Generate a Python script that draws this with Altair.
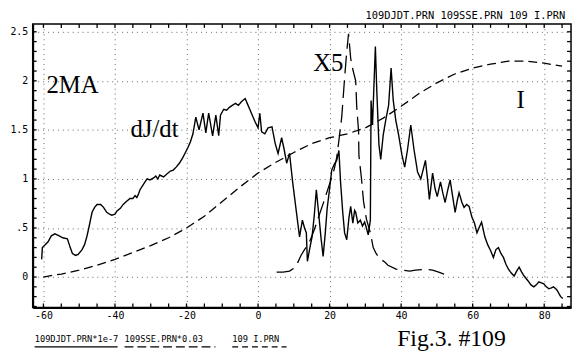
import altair as alt
import pandas as pd

# ---- data ----
DJ_X = [-60.5, -60.3, -59.5, -58.7, -57.8, -56.8, -55.6, -54.6, -53.3, -52.5, -51.9, -51.0, -50.3, -49.2,
        -48.5, -47.8, -47.2, -46.4, -45.7, -45.0, -44.0, -43.2, -42.3, -41.5, -40.9, -40.0, -39.5, -38.5,
        -37.7, -36.8, -35.8, -35.0, -34.4, -33.9, -33.5, -33.0, -32.3, -31.6, -31.0, -30.2, -29.2, -28.6,
        -28.0, -27.5, -26.4, -25.5, -24.5, -23.7, -22.9, -22.0, -21.0, -20.3, -19.6, -18.9, -18.2, -17.4,
        -16.5, -15.4, -14.6, -13.8, -12.7, -11.8, -11.0, -10.5, -9.6, -8.8, -8.0, -7.2, -6.3, -5.5, -4.6,
        -3.6, -2.9, -2.2, -1.5, -0.8, 0.0, 0.5, 1.0, 1.9, 2.8, 3.9, 4.8, 5.6, 6.6, 7.3, 8.0, 8.8, 9.7,
        10.7, 11.6, 12.4, 13.0, 13.5, 13.8, 14.5, 15.1, 15.7, 16.3, 17.1, 17.6, 18.2, 18.8, 19.3, 20.0,
        20.6, 21.3, 22.0, 22.6, 23.1, 23.7, 24.2, 24.8, 25.4, 25.9, 26.5, 27.0, 27.3, 27.9, 28.6, 29.2,
        29.8, 30.3, 30.8, 31.4, 31.6, 32.0, 32.8, 33.2, 33.8, 34.3, 35.0, 35.8, 36.5, 37.2, 37.8, 38.5,
        39.3, 40.2, 41.0, 41.8, 42.7, 43.6, 44.6, 45.5, 46.2, 46.8, 47.4, 47.9, 48.8, 49.5, 50.1, 51.0,
        51.7, 52.3, 53.0, 53.7, 54.5, 55.1, 55.7, 56.2, 57.0, 57.6, 58.3, 59.0, 59.8, 60.5, 61.2, 62.0,
        62.5, 63.4, 64.2, 65.0, 65.8, 66.5, 67.2, 67.9, 68.6, 69.3, 70.0, 70.8, 71.6, 72.3, 73.0, 73.7,
        74.4, 75.5, 76.3, 77.1, 77.8, 78.5, 79.2, 79.9, 80.6, 81.3, 82.0, 82.6, 83.5, 84.6, 85.2]
DJ_Y = [0.18, 0.30, 0.33, 0.36, 0.42, 0.44, 0.42, 0.40, 0.39, 0.30, 0.24, 0.22, 0.23, 0.28,
        0.33, 0.42, 0.52, 0.66, 0.71, 0.74, 0.74, 0.71, 0.66, 0.64, 0.63, 0.64, 0.67, 0.70,
        0.74, 0.77, 0.80, 0.80, 0.83, 0.81, 0.84, 0.89, 0.93, 0.97, 1.00, 0.99, 1.01, 1.03,
        1.00, 1.04, 1.02, 1.05, 1.08, 1.09, 1.12, 1.16, 1.22, 1.27, 1.32, 1.38, 1.46, 1.63,
        1.50, 1.67, 1.47, 1.67, 1.44, 1.65, 1.44, 1.65, 1.71, 1.70, 1.73, 1.75, 1.77, 1.75, 1.79,
        1.82, 1.76, 1.70, 1.64, 1.58, 1.52, 1.67, 1.48, 1.46, 1.52, 1.53, 1.36, 1.26, 1.42, 1.30, 1.16, 1.26, 0.96,
        0.67, 0.41, 0.58, 0.50, 0.45, 0.16, 0.30, 0.41, 0.62, 0.89, 0.59, 0.40, 0.21, 0.45, 0.69, 0.90,
        1.09, 1.15, 1.19, 1.29, 0.95, 0.65, 0.45, 0.38, 0.60, 0.72, 0.55, 0.68, 0.66, 0.55, 0.58, 0.52,
        0.56, 0.50, 0.43, 0.58, 1.80, 1.55, 2.35, 1.90, 1.35, 1.20, 1.45, 1.62, 1.75, 2.13, 1.80, 1.60,
        1.45, 1.25, 1.12, 1.30, 1.55, 1.30, 1.07, 1.00, 1.10, 1.19, 0.99, 0.79, 1.06, 0.90, 0.82, 0.97,
        0.85, 0.76, 0.88, 0.99, 0.80, 0.66, 0.78, 0.86, 0.76, 0.71, 0.74, 0.72, 0.61, 0.55, 0.45, 0.52,
        0.56, 0.41, 0.33, 0.27, 0.20, 0.28, 0.30, 0.24, 0.20, 0.13, 0.08, 0.04, 0.01, 0.06, 0.10, 0.05,
        0.01, -0.04, -0.08, -0.10, -0.08, -0.05, -0.06, -0.07, -0.10, -0.12, -0.11, -0.10, -0.13, -0.20, -0.22]

SSE_X = [5.2, 7.0, 8.8, 10.0, 11.0, 12.0, 13.0, 14.3, 15.7, 17.0, 18.5, 20.0, 21.3, 22.0, 22.6, 23.4,
         24.2, 24.8, 25.3, 25.9, 26.6, 27.3, 27.6, 28.1, 28.2, 28.9, 29.5, 30.3, 31.4, 32.2, 33.0, 34.0,
         35.5, 36.3, 38.6, 40.5, 42.4, 44.0, 46.8, 48.8, 50.5, 52.0]
SSE_Y = [0.05, 0.05, 0.06, 0.09, 0.14, 0.22, 0.28, 0.35, 0.48, 0.62, 0.78, 0.95, 1.10, 1.22, 1.39, 1.63,
         2.03, 2.30, 2.48, 2.23, 2.10, 2.00, 1.73, 1.49, 1.24, 1.01, 0.77, 0.59, 0.45, 0.30, 0.24, 0.19,
         0.15, 0.12, 0.08, 0.07, 0.06, 0.07, 0.08, 0.07, 0.05, 0.03]

I_X = [-60, -57, -55, -50, -45, -40, -35, -30, -25, -20, -15, -10, -5, 0, 5, 10, 15, 20, 25, 30,
       35, 40, 45, 50, 55, 60, 65, 70, 75, 80, 85]
I_Y = [0.00, 0.02, 0.03, 0.07, 0.12, 0.18, 0.25, 0.32, 0.40, 0.50, 0.62, 0.77, 0.92, 1.06, 1.17, 1.27,
       1.36, 1.42, 1.46, 1.52, 1.62, 1.74, 1.87, 1.98, 2.07, 2.13, 2.17, 2.20, 2.20, 2.18, 2.15]

X_LABELS = [-60, -40, -20, 0, 20, 40, 60, 80]
Y_LABELS = [0, 0.5, 1, 1.5, 2, 2.5]
X_MINOR = [-60, -55, -50, -45, -40, -35, -30, -25, -20, -15, -10, -5, 0, 5, 10, 15, 20, 25, 30, 35,
           40, 45, 50, 55, 60, 65, 70, 75, 80, 85]
Y_MINOR = [-0.3, -0.2, -0.1, 0, 0.1, 0.2, 0.3, 0.4, 0.5, 0.6, 0.7, 0.8, 0.9, 1.0, 1.1, 1.2, 1.3, 1.4,
           1.5, 1.6, 1.7, 1.8, 1.9, 2.0, 2.1, 2.2, 2.3, 2.4, 2.5]

TOP_NOTE = "109DJDT.PRN 109SSE.PRN 109 I.PRN"
LEGEND_TEXT = ["109DJDT.PRN*1e-7", "109SSE.PRN*0.03", "109 I.PRN"]
FIG_TITLE = "Fig.3. #109"

W, H = 545, 287

xs = alt.Scale(domain=[-63, 87.5], nice=False, zero=False)
ys = alt.Scale(domain=[-0.31, 2.58], nice=False, zero=False)

def df(xv, yv):
    return pd.DataFrame({"x": xv, "y": yv, "i": list(range(len(xv)))})

mono = "DejaVu Sans Mono"
serif = "Liberation Serif"

x_main = alt.Axis(values=X_LABELS, title=None, grid=True, gridColor="#666", gridDash=[1, 4],
                  gridWidth=1, ticks=False, domain=True, domainColor="black", domainWidth=2,
                  labelFont=mono, labelFontSize=10, labelColor="black", labelPadding=3,
                  labelExpr="'' + datum.value")
y_main = alt.Axis(values=Y_LABELS, title=None, grid=True, gridColor="#666", gridDash=[1, 4],
                  gridWidth=1, ticks=False, domain=True, domainColor="black", domainWidth=2,
                  labelFont=mono, labelFontSize=10, labelColor="black", labelPadding=5,
                  labelExpr="datum.value == 0.5 ? '.5' : '' + datum.value")

def X(field):
    return alt.X(field, scale=xs, axis=x_main)

def Y(field):
    return alt.Y(field, scale=ys, axis=y_main)

i_line = alt.Chart(df(I_X, I_Y)).mark_line(color="black", strokeWidth=1.3, strokeDash=[9, 5]).encode(
    x=X("x:Q"), y=Y("y:Q"), order="i:Q")

dj_line = alt.Chart(df(DJ_X, DJ_Y)).mark_line(color="black", strokeWidth=1.4).encode(
    x=X("x:Q"), y=Y("y:Q"), order="i:Q")

sse_line = alt.Chart(df(SSE_X, SSE_Y)).mark_line(color="black", strokeWidth=1.3, strokeDash=[18, 7]).encode(
    x=X("x:Q"), y=Y("y:Q"), order="i:Q")

# inward tick marks on all four edges
xt = pd.DataFrame({"x": X_MINOR})
yt = pd.DataFrame({"y": Y_MINOR})
TK = 4
tick_layers = [
    alt.Chart(xt).mark_rule(color="black", strokeWidth=1.3).encode(
        x=X("x:Q"), y=alt.value(H), y2=alt.value(H - TK)),
    alt.Chart(xt).mark_rule(color="black", strokeWidth=1.3).encode(
        x=X("x:Q"), y=alt.value(0), y2=alt.value(TK)),
    alt.Chart(yt).mark_rule(color="black", strokeWidth=1.3).encode(
        y=Y("y:Q"), x=alt.value(0), x2=alt.value(TK)),
    alt.Chart(yt).mark_rule(color="black", strokeWidth=1.3).encode(
        y=Y("y:Q"), x=alt.value(W), x2=alt.value(W - TK)),
]

one = pd.DataFrame({"a": [0]})

def label(text, px, py, size, font, align="left"):
    return alt.Chart(one).mark_text(text=text, font=font, fontSize=size, align=align,
                                    baseline="alphabetic", color="black").encode(
        x=alt.value(px), y=alt.value(py))

def underline(x1, x2, py, dash=None):
    kw = {"color": "black", "strokeWidth": 1.2}
    if dash:
        kw["strokeDash"] = dash
    return alt.Chart(one).mark_rule(**kw).encode(x=alt.value(x1), x2=alt.value(x2), y=alt.value(py))

layers = [
    i_line, dj_line, sse_line, *tick_layers,
    label("2MA", 14, 70, 25, serif),
    label("dJ/dt", 99, 114, 25, serif),
    label("X5", 284, 48, 25, serif),
    label("I", 494, 85, 25, serif, align="center"),
    label(TOP_NOTE, 337, -5, 10.5, mono),
    label(LEGEND_TEXT[0], 2, 322, 8.8, mono),
    label(LEGEND_TEXT[1], 93, 322, 8.8, mono),
    label(LEGEND_TEXT[2], 202, 322, 8.8, mono),
    underline(2, 86, 327),
    underline(93, 185, 327, [9, 4]),
    underline(202, 257, 327, [6, 4]),
    label(FIG_TITLE, 369, 326, 24, serif),
]

chart = alt.layer(*layers).properties(
    width=W, height=H,
    autosize=alt.AutoSizeParams(type="none"),
    padding={"left": 25, "top": 14, "right": 2, "bottom": 45},
    background="white",
).configure_view(stroke="black", strokeWidth=1.5)

chart.save("out.html", embed_options={"renderer": "svg", "actions": False})
